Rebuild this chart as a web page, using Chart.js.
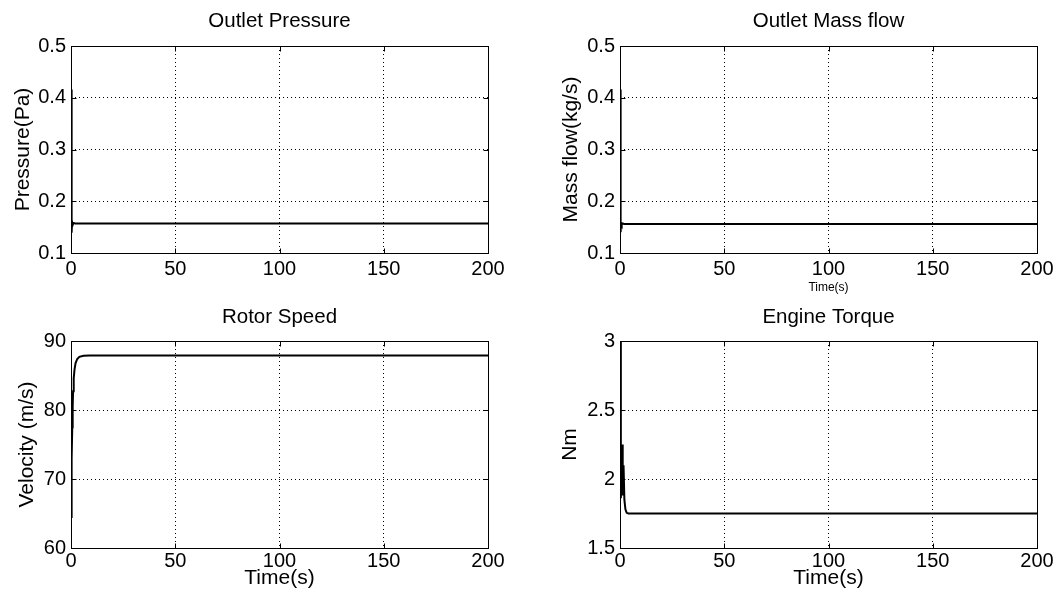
<!DOCTYPE html>
<html>
<head>
<meta charset="utf-8">
<script src="https://cdn.jsdelivr.net/npm/chart.js@4.4.0/dist/chart.umd.min.js"></script>
<style>
  body { margin: 0; background: #fff; }
  .cell { position: absolute; width: 529px; }
</style>
</head>
<body>
<div class="cell" style="left:0;top:0"><canvas id="pressure" width="529" height="299"></canvas></div>
<div class="cell" style="left:529px;top:0"><canvas id="massflow" width="529" height="299"></canvas></div>
<div class="cell" style="left:0;top:299px"><canvas id="rotor" width="529" height="300"></canvas></div>
<div class="cell" style="left:529px;top:299px"><canvas id="torque" width="529" height="300"></canvas></div>
<script>
// values
const pressureTime = [0, 0.3, 0.5, 0.8, 1.2, 2, 200];
const pressureVals = [0.416, 0.139, 0.160, 0.154, 0.158, 0.157, 0.157];

const massTime = [0, 0.3, 0.5, 0.8, 1.2, 2, 200];
const massVals = [0.416, 0.140, 0.158, 0.155, 0.157, 0.156, 0.156];

const rotorTime = [0, 0.2, 0.4, 0.6, 0.8, 1.0, 1.3, 1.7, 2.2, 3, 4, 6, 9, 200];
const rotorVals = [64.5, 68, 73, 77.5, 80.5, 82.7, 84.6, 85.9, 86.8, 87.4, 87.7, 87.85, 87.9, 87.9];

const torqueTime = [0, 0.4, 0.7, 1.0, 1.3, 1.7, 2.1, 2.6, 3.2, 4, 200];
const torqueVals = [3.0, 1.86, 2.0, 2.25, 1.88, 2.1, 1.85, 1.78, 1.755, 1.75, 1.75];

const timeTicks = [0, 50, 100, 150, 200];

Chart.defaults.font.family = "'Liberation Sans', Arial, Helvetica, sans-serif";
Chart.defaults.color = '#000';

/* matlab style box + inward ticks */
const boxPlugin = {
  id: 'matlabBox',
  afterDatasetsDraw(chart) {
    const { ctx, chartArea: a, scales } = chart;
    const l = Math.round(a.left) + 0.5, r = Math.round(a.right) + 0.5;
    const t = Math.round(a.top) + 0.5, b = Math.round(a.bottom) + 0.5;
    ctx.save();
    ctx.strokeStyle = '#000';
    ctx.lineWidth = 1;
    ctx.strokeRect(l, t, r - l, b - t);
    ctx.beginPath();
    scales.x.ticks.forEach(tk => {
      const px = Math.round(scales.x.getPixelForValue(tk.value)) + 0.5;
      ctx.moveTo(px, b); ctx.lineTo(px, b - 5);
      ctx.moveTo(px, t); ctx.lineTo(px, t + 5);
    });
    scales.y.ticks.forEach(tk => {
      const py = Math.round(scales.y.getPixelForValue(tk.value)) + 0.5;
      ctx.moveTo(l, py); ctx.lineTo(l + 5, py);
      ctx.moveTo(r, py); ctx.lineTo(r - 5, py);
    });
    ctx.stroke();
    ctx.restore();
  }
};

function innerGrid(min, max) {
  return ctx => (ctx.tick && ctx.tick.value > min && ctx.tick.value < max) ? '#000' : 'rgba(0,0,0,0)';
}

function makeChart(id, o) {
  const pts = o.time.map((t, i) => ({ x: t, y: o.vals[i] }));
  return new Chart(document.getElementById(id).getContext('2d'), {
    type: 'line',
    data: { datasets: [{
      data: pts,
      borderColor: '#000',
      borderWidth: 2,
      pointRadius: 0,
      tension: 0,
      fill: false
    }]},
    options: {
      responsive: false,
      animation: false,
      layout: { padding: { left: 0, right: o.padRight, top: 0, bottom: 0 } },
      plugins: {
        legend: { display: false },
        tooltip: { enabled: false },
        title: { display: false }
      },
      scales: {
        // top axis only carries the subplot title, centred over the plot box
        top: {
          type: 'linear', position: 'top', min: 0, max: 200,
          afterFit: s => { s.height = o.topHeight; },
          ticks: { display: false },
          grid: { display: false, drawTicks: false },
          border: { display: false },
          title: {
            display: true,
            text: o.title,
            color: '#000',
            font: { size: 20.5, weight: 'normal' },
            padding: { top: o.titleTop, bottom: 0 }
          }
        },
        x: {
          type: 'linear', position: 'bottom', min: 0, max: 200,
          afterBuildTicks: s => { s.ticks = timeTicks.map(v => ({ value: v })); },
          afterFit: s => { s.height = o.xHeight; },
          ticks: { padding: o.xTickPad, font: { size: 20 }, maxRotation: 0, autoSkip: false, color: '#000' },
          grid: { color: innerGrid(0, 200), drawTicks: false, lineWidth: 1 },
          border: { display: false, dash: [1, 3] },
          title: {
            display: !!o.xTitle,
            text: o.xTitle || '',
            color: '#000',
            font: { size: o.xTitleSize || 21 },
            padding: { top: 0, bottom: o.xTitleBottom || 0 }
          }
        },
        y: {
          min: o.yTicks[0], max: o.yTicks[o.yTicks.length - 1],
          afterBuildTicks: s => { s.ticks = o.yTicks.map(v => ({ value: v })); },
          afterFit: s => { s.width = o.yWidth; },
          ticks: { padding: 5, font: { size: 20 }, color: '#000', callback: v => String(+v.toFixed(2)) },
          grid: { color: innerGrid(o.yTicks[0], o.yTicks[o.yTicks.length - 1]), drawTicks: false, lineWidth: 1 },
          border: { display: false, dash: [1, 3] },
          title: {
            display: true,
            text: o.yTitle,
            color: '#000',
            font: { size: 21 },
            padding: { top: o.yTitleTop, bottom: 0 }
          }
        }
      }
    },
    plugins: [boxPlugin]
  });
}

makeChart('pressure', {
  time: pressureTime, vals: pressureVals,
  title: 'Outlet Pressure', titleTop: 8.7, topHeight: 46,
  yTitle: 'Pressure(Pa)', yTitleTop: 10.4, yWidth: 71,
  yTicks: [0.1, 0.2, 0.3, 0.4, 0.5],
  xHeight: 46, xTickPad: 4, padRight: 41
});

makeChart('massflow', {
  time: massTime, vals: massVals,
  title: 'Outlet Mass flow', titleTop: 8.7, topHeight: 46,
  yTitle: 'Mass flow(kg/s)', yTitleTop: 29.4, yWidth: 91,
  yTicks: [0.1, 0.2, 0.3, 0.4, 0.5],
  xHeight: 46, xTickPad: 4, padRight: 21,
  xTitle: 'Time(s)', xTitleSize: 12, xTitleBottom: 4
});

makeChart('rotor', {
  time: rotorTime, vals: rotorVals,
  title: 'Rotor Speed', titleTop: 5.7, topHeight: 42,
  yTitle: 'Velocity (m/s)', yTitleTop: 14.9, yWidth: 71,
  yTicks: [60, 70, 80, 90],
  xHeight: 51, xTickPad: 1, padRight: 41,
  xTitle: 'Time(s)', xTitleBottom: 7.8
});

makeChart('torque', {
  time: torqueTime, vals: torqueVals,
  title: 'Engine Torque', titleTop: 5.7, topHeight: 42,
  yTitle: 'Nm', yTitleTop: 28.4, yWidth: 91,
  yTicks: [1.5, 2, 2.5, 3],
  xHeight: 51, xTickPad: 1, padRight: 21,
  xTitle: 'Time(s)', xTitleBottom: 7.8
});
</script>
</body>
</html>
